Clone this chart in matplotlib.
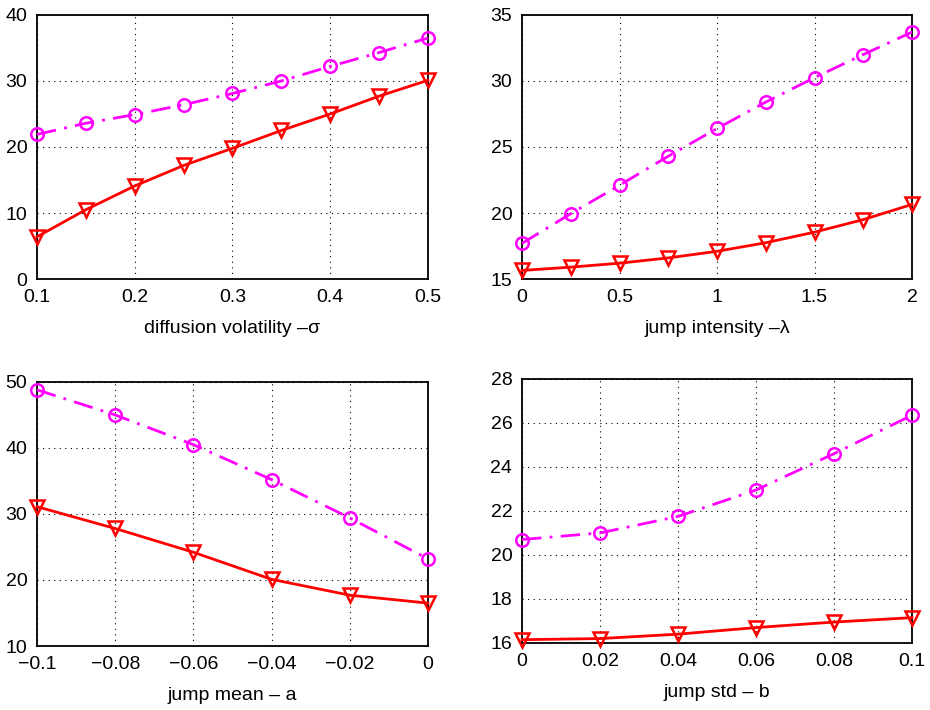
import matplotlib
matplotlib.use("Agg")
import matplotlib.pyplot as plt

plt.rcParams["font.family"] = ["Liberation Sans", "DejaVu Sans"]

# panel 1: diffusion volatility
sigma = [0.1, 0.15, 0.2, 0.25, 0.3, 0.35, 0.4, 0.45, 0.5]
sigma_red = [6.4, 10.5, 14.1, 17.2, 19.8, 22.5, 25.0, 27.7, 30.1]
sigma_mag = [21.9, 23.6, 24.9, 26.4, 28.1, 30.0, 32.2, 34.3, 36.5]

# panel 2: jump intensity
lam = [0, 0.25, 0.5, 0.75, 1.0, 1.25, 1.5, 1.75, 2.0]
lam_red = [15.65, 15.9, 16.2, 16.6, 17.1, 17.75, 18.55, 19.5, 20.65]
lam_mag = [17.7, 19.95, 22.1, 24.3, 26.4, 28.4, 30.25, 32.0, 33.7]

# panel 3: jump mean
a_vals = [-0.1, -0.08, -0.06, -0.04, -0.02, 0]
a_red = [31.1, 27.8, 24.2, 20.1, 17.7, 16.5]
a_mag = [48.8, 45.0, 40.5, 35.2, 29.4, 23.2]

# panel 4: jump std
b_vals = [0, 0.02, 0.04, 0.06, 0.08, 0.1]
b_red = [16.15, 16.2, 16.4, 16.7, 16.95, 17.15]
b_mag = [20.7, 21.0, 21.75, 22.95, 24.6, 26.35]

panels = [
    dict(x=sigma, red=sigma_red, mag=sigma_mag, xlabel="diffusion volatility –σ",
         xlim=(0.1, 0.5), xticks=[0.1, 0.2, 0.3, 0.4, 0.5],
         xticklabels=["0.1", "0.2", "0.3", "0.4", "0.5"],
         ylim=(0, 40), yticks=[0, 10, 20, 30, 40],
         pos=[0.0398, 0.607, 0.4204, 0.372]),
    dict(x=lam, red=lam_red, mag=lam_mag, xlabel="jump intensity –λ",
         xlim=(0, 2), xticks=[0, 0.5, 1, 1.5, 2],
         xticklabels=["0", "0.5", "1", "1.5", "2"],
         ylim=(15, 35), yticks=[15, 20, 25, 30, 35],
         pos=[0.5613, 0.607, 0.4194, 0.372]),
    dict(x=a_vals, red=a_red, mag=a_mag, xlabel="jump mean – a",
         xlim=(-0.1, 0), xticks=[-0.1, -0.08, -0.06, -0.04, -0.02, 0],
         xticklabels=["\u22120.1", "\u22120.08", "\u22120.06", "\u22120.04", "\u22120.02", "0"],
         ylim=(10, 50), yticks=[10, 20, 30, 40, 50],
         pos=[0.0398, 0.0901, 0.4204, 0.372]),
    dict(x=b_vals, red=b_red, mag=b_mag, xlabel="jump std – b",
         xlim=(0, 0.1), xticks=[0, 0.02, 0.04, 0.06, 0.08, 0.1],
         xticklabels=["0", "0.02", "0.04", "0.06", "0.08", "0.1"],
         ylim=(16, 28), yticks=[16, 18, 20, 22, 24, 26, 28],
         pos=[0.5613, 0.0944, 0.4194, 0.372]),
]

fig = plt.figure(figsize=(9.3, 7.1), dpi=100, facecolor="white")

for p in panels:
    ax = fig.add_axes(p["pos"])
    ax.plot(p["x"], p["mag"], color="#ff00ff", linewidth=2.0,
            linestyle=(0, (7, 3, 1, 3)), marker="o", markersize=9,
            markerfacecolor="none", markeredgewidth=1.8, clip_on=False, zorder=3)
    ax.plot(p["x"], p["red"], color="#ff0000", linewidth=2.0,
            linestyle="-", marker="v", markersize=10,
            markerfacecolor="none", markeredgewidth=1.8, clip_on=False, zorder=3)
    ax.set_xlim(*p["xlim"])
    ax.set_ylim(*p["ylim"])
    ax.set_xticks(p["xticks"])
    ax.set_xticklabels(p["xticklabels"])
    ax.set_yticks(p["yticks"])
    ax.grid(True, color="black", linestyle=(0, (1, 4)), linewidth=0.8)
    ax.tick_params(length=0, labelsize=14, pad=7)
    ax.set_xlabel(p["xlabel"], fontsize=14, labelpad=10)
    for s in ax.spines.values():
        s.set_linewidth(1.3)

fig.savefig("out.png", dpi=100, facecolor="white")
plt.close(fig)
